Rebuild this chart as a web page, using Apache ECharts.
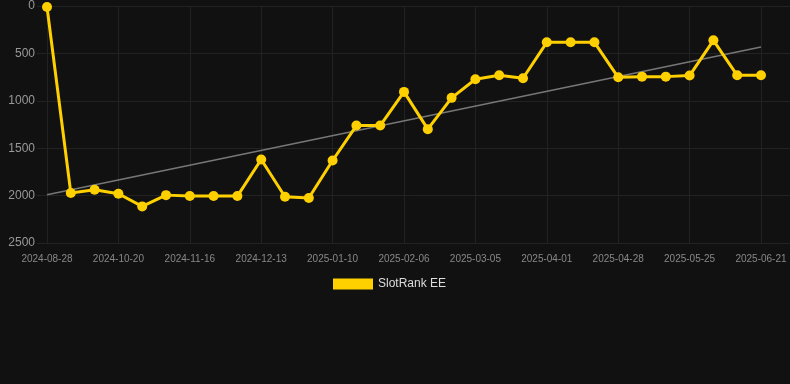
<!DOCTYPE html>
<html>
<head>
<meta charset="utf-8">
<script src="https://cdn.jsdelivr.net/npm/echarts@6/dist/echarts.min.js"></script>
<style>
  html, body { margin: 0; padding: 0; background: #111111; }
  #rank-chart { width: 790px; height: 384px; }
</style>
</head>
<body>
<div id="rank-chart"></div>
<script>
var dates = [
  '2024-08-28', '2024-10-02', '2024-10-11', '2024-10-20', '2024-10-29', '2024-11-07',
  '2024-11-16', '2024-11-25', '2024-12-04', '2024-12-13', '2024-12-22', '2024-12-31',
  '2025-01-10', '2025-01-19', '2025-01-28', '2025-02-06', '2025-02-15', '2025-02-24',
  '2025-03-05', '2025-03-14', '2025-03-23', '2025-04-01', '2025-04-10', '2025-04-19',
  '2025-04-28', '2025-05-07', '2025-05-16', '2025-05-25', '2025-06-03', '2025-06-12',
  '2025-06-21'
];
var ranks = [
  10, 1973, 1938, 1981, 2114, 1995, 2005, 2005, 2005, 1619, 2012, 2026,
  1630, 1261, 1261, 906, 1299, 969, 773, 731, 762, 383, 383, 383,
  752, 745, 745, 734, 362, 731, 731
];
var trendStart = 1992;
var trendEnd = 432;
var yTicks = [0, 500, 1000, 1500, 2000, 2500];

var trend = dates.map(function (d, i) {
  if (i === 0) return trendStart;
  if (i === dates.length - 1) return trendEnd;
  return null;
});

var chart = echarts.init(document.getElementById('rank-chart'));

var option = {
  backgroundColor: '#111111',
  animation: false,
  legend: {
    data: [{ name: 'SlotRank EE', icon: 'rect' }],
    top: 273,
    left: 328,
    itemWidth: 40,
    itemHeight: 11,
    itemGap: 6,
    textStyle: { color: '#dddddd', fontSize: 12, fontFamily: 'Liberation Sans, Arial, sans-serif' }
  },
  grid: [{
    left: 47,
    right: 29,
    top: 6,
    bottom: 141
  }, {
    left: 37,
    right: 0,
    top: 6,
    bottom: 141
  }],
  xAxis: [{
    type: 'category',
    gridIndex: 0,
    data: dates,
    boundaryGap: false,
    axisLine: { show: false },
    axisTick: {
      show: true,
      interval: 2,
      length: 10,
      lineStyle: { color: '#222222' }
    },
    axisLabel: {
      interval: 2,
      margin: 11,
      color: '#888888',
      fontSize: 10,
      fontFamily: 'Liberation Sans, Arial, sans-serif'
    },
    splitLine: {
      show: true,
      interval: 2,
      lineStyle: { color: '#222222', width: 1 }
    }
  }, {
    type: 'category',
    gridIndex: 1,
    data: dates,
    show: false
  }],
  yAxis: [{
    type: 'value',
    gridIndex: 0,
    inverse: true,
    min: 0,
    max: 2500,
    interval: 500,
    axisLine: { show: false },
    axisTick: { show: false },
    axisLabel: { show: false },
    splitLine: { show: false }
  }, {
    type: 'value',
    gridIndex: 1,
    inverse: true,
    min: yTicks[0],
    max: yTicks[yTicks.length - 1],
    interval: 500,
    axisLine: { show: false },
    axisTick: { show: false },
    axisLabel: {
      margin: 2,
      color: '#999999',
      fontSize: 12,
      fontFamily: 'Liberation Sans, Arial, sans-serif',
      formatter: function (v) { return String(v); }
    },
    splitLine: {
      show: true,
      lineStyle: { color: '#222222', width: 1 }
    }
  }],
  series: [{
    name: 'trend',
    type: 'line',
    xAxisIndex: 0,
    yAxisIndex: 0,
    data: trend,
    connectNulls: true,
    symbol: 'none',
    silent: true,
    lineStyle: { color: '#777777', width: 1.5 },
    z: 1
  }, {
    name: 'SlotRank EE',
    type: 'line',
    xAxisIndex: 0,
    yAxisIndex: 0,
    data: ranks,
    symbol: 'circle',
    symbolSize: 10,
    itemStyle: { color: '#FFD000' },
    lineStyle: { color: '#FFD000', width: 3 },
    z: 3
  }]
};

chart.setOption(option);
</script>
</body>
</html>
